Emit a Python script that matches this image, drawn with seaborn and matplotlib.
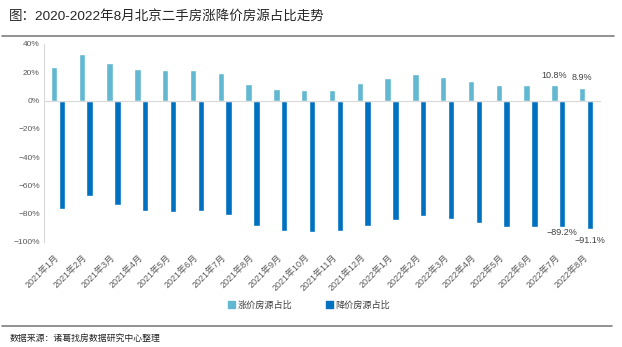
import matplotlib
matplotlib.use("Agg")
import matplotlib.pyplot as plt
from matplotlib.lines import Line2D
from matplotlib.ticker import MultipleLocator, FuncFormatter, FixedLocator
import seaborn as sns
import pandas as pd

months = ["2021年1月", "2021年2月", "2021年3月", "2021年4月", "2021年5月", "2021年6月",
          "2021年7月", "2021年8月", "2021年9月", "2021年10月", "2021年11月", "2021年12月",
          "2022年1月", "2022年2月", "2022年3月", "2022年4月", "2022年5月", "2022年6月",
          "2022年7月", "2022年8月"]
rise_share = [23.6, 33.0, 26.4, 22.6, 21.4, 21.9, 19.3, 11.8, 8.5, 7.3,
              7.8, 12.2, 16.0, 18.9, 16.5, 13.9, 11.3, 11.3, 10.8, 8.9]
fall_share = [-76.6, -67.7, -73.5, -78.0, -78.5, -78.0, -80.8, -88.4, -92.2, -92.6,
              -92.2, -88.4, -84.6, -81.8, -83.4, -86.3, -89.1, -89.5, -89.2, -91.1]
series_names = ["涨价房源占比", "降价房源占比"]
colors = ["#63B8D1", "#0070C0"]

df = pd.DataFrame({
    "month": months * 2,
    "value": rise_share + fall_share,
    "series": [series_names[0]] * len(months) + [series_names[1]] * len(months),
})

sns.set_theme(style="white")
plt.rcParams["font.family"] = ["Liberation Sans", "Noto Sans CJK SC", "DejaVu Sans"]
plt.rcParams["axes.unicode_minus"] = True

fig = plt.figure(figsize=(6.22, 3.47), dpi=100)
ax = fig.add_axes([44 / 622, 1 - 242 / 347, (600 - 44) / 622, (242 - 44) / 347])

sns.barplot(data=df, x="month", y="value", hue="series", hue_order=series_names,
            palette=colors, width=0.56, gap=0.2, ax=ax, legend=False,
            order=months, saturation=1)

ax.set_ylim(-100, 40)
ax.set_xlim(-0.5, len(months) - 0.5)
ax.set_xlabel("")
ax.set_ylabel("")

# y axis
ax.yaxis.set_major_locator(MultipleLocator(20))
ax.yaxis.set_minor_locator(MultipleLocator(5))
ax.yaxis.set_major_formatter(FuncFormatter(lambda v, p: f"{v:.0f}%".replace("-", "\u2212")))
ax.tick_params(axis="y", which="both", direction="in", color="#D9D9D9", labelsize=6,
               labelcolor="#595959", length=4, width=0.8, pad=3)
ax.tick_params(axis="y", which="minor", length=2.5)
for s in ["top", "right"]:
    ax.spines[s].set_visible(False)
ax.spines["left"].set_color("#D9D9D9")
ax.spines["left"].set_linewidth(0.8)

# zero line as bottom spine with boundary ticks
ax.spines["bottom"].set_position(("data", 0))
ax.spines["bottom"].set_color("#D9D9D9")
ax.spines["bottom"].set_linewidth(0.8)
ax.xaxis.set_minor_locator(FixedLocator([i + 0.5 for i in range(len(months))]))
ax.tick_params(axis="x", which="major", length=0, labelbottom=False)
ax.tick_params(axis="x", which="minor", direction="out", length=3, color="#D9D9D9", width=0.8)

sec = ax.secondary_xaxis(location=0)
sec.set_xticks(range(len(months)), labels=months)
sec.spines["bottom"].set_visible(False)
sec.tick_params(axis="x", length=0, labelsize=6.5, labelcolor="#595959", pad=10)
for lab in sec.get_xticklabels():
    lab.set_rotation(45)
    lab.set_ha("right")
    lab.set_va("center")
    lab.set_rotation_mode("anchor")

# data labels for last two months
neg_offsets = {len(months) - 2: -1, len(months) - 1: -5}
for i in [len(months) - 2, len(months) - 1]:
    ax.annotate(f"{rise_share[i]:.1f}%", xy=(i - 0.14, rise_share[i]), xytext=(0, 4),
                textcoords="offset points", ha="center", va="bottom", fontsize=6.5,
                color="#404040")
    ax.annotate(f"{fall_share[i]:.1f}%".replace("-", "\u2212"), xy=(i + 0.14, fall_share[i]),
                xytext=(0, neg_offsets[i]), textcoords="offset points", ha="center", va="top",
                fontsize=6.5, color="#404040")

# legend
handles = [plt.Rectangle((0, 0), 1, 1, color=c) for c in colors]
fig.legend(handles, series_names, loc="center", bbox_to_anchor=(0.497, 1 - 305 / 347),
           ncol=2, frameon=False, fontsize=6.6, handlelength=0.75, handleheight=0.75,
           handletextpad=0.35, columnspacing=3.6, labelcolor="#404040")

# title and source
fig.text(9 / 622, 1 - 17 / 347, "图：2020-2022年8月北京二手房涨降价房源占比走势",
         fontsize=9.7, color="#262626", va="center", ha="left")
fig.add_artist(Line2D([2 / 622, 614 / 622], [1 - 36 / 347] * 2, color="#7F7F7F", lw=1.2))
fig.add_artist(Line2D([2 / 622, 612 / 622], [1 - 326 / 347] * 2, color="#7F7F7F", lw=1.2))
fig.text(10 / 622, 1 - 338 / 347, "数据来源：诸葛找房数据研究中心整理",
         fontsize=6.4, color="#262626", va="center", ha="left")

fig.savefig("out.png", dpi=100)
